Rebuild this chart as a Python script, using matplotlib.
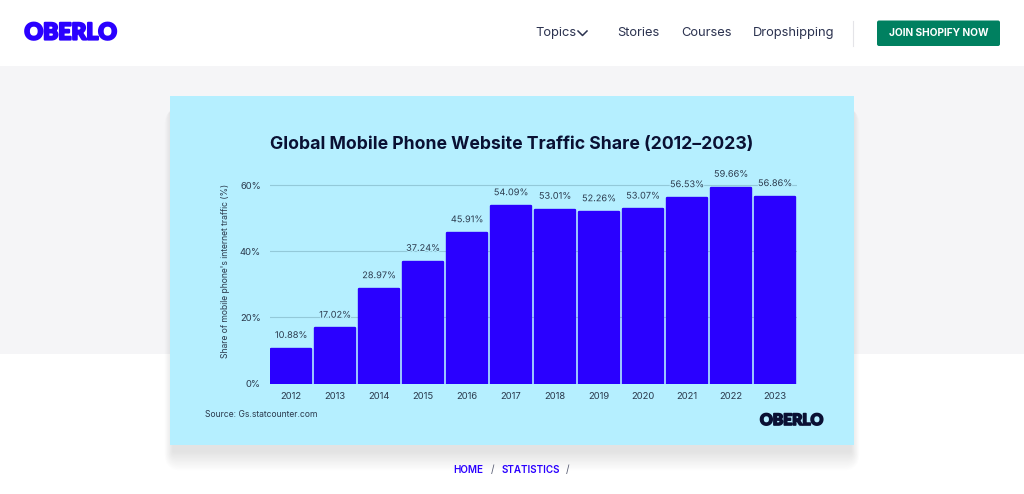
import matplotlib
matplotlib.use("Agg")
import matplotlib.pyplot as plt
from matplotlib.patches import Rectangle, FancyBboxPatch
from matplotlib.transforms import Affine2D
import matplotlib.patheffects as pe
import numpy as np

years = ["2012", "2013", "2014", "2015", "2016", "2017", "2018", "2019", "2020", "2021", "2022", "2023"]
shares = [10.88, 17.02, 28.97, 37.24, 45.91, 54.09, 53.01, 52.26, 53.07, 56.53, 59.66, 56.86]
y_ticks = [0, 20, 40, 60]
y_tick_labels = ["0%", "20%", "40%", "60%"]
nav_items = [("Topics", 535), ("Stories", 617), ("Courses", 681.5), ("Dropshipping", 753)]

W, H = 1024, 494
BLUE = "#2a00ff"
NAVY = "#0a1033"
TXT = "#2b3a4d"
plt.rcParams["font.family"] = ["Inter", "DejaVu Sans"]

fig = plt.figure(figsize=(W / 100, H / 100), dpi=100, facecolor="white")
bg = fig.add_axes([0, 0, 1, 1])
bg.set_xlim(0, W)
bg.set_ylim(H, 0)
bg.axis("off")

bg.add_patch(Rectangle((0, 66), W, 287.5, fc="#f5f5f7", ec="none"))

# card shadow
for i in range(14):
    g = 28 - i * 2
    bg.add_patch(FancyBboxPatch((170 - g * 0.3 + 3, 96 + 12), 684 + g * 0.6 - 6, 349 + g * 0.7 - 6,
                                boxstyle="round,pad=0,rounding_size=%f" % max(g * 0.6, 1),
                                fc="#000000", ec="none", alpha=0.007))
bg.add_patch(Rectangle((170, 96), 684, 349, fc="#b5efff", ec="none"))


def logo(x, y, size, color, stroke):
    t = bg.text(x, y, "OBERLO", fontsize=size, fontweight="black", color=color, ha="left", va="center",
                family=["Lato", "DejaVu Sans"])
    t.set_path_effects([pe.withStroke(linewidth=stroke, foreground=color)])
    return t


logo(24.5, 33, 16.5, BLUE, 1.6)
logo(760, 420, 11.3, NAVY, 1.2)

for label, x in nav_items:
    bg.text(x, 33, label, fontsize=9.3, color="#2c3350", ha="left", va="center")
bg.plot([578, 582.5, 587], [31, 35.5, 31], color="#2c3350", lw=1.1)
bg.plot([852.5, 852.5], [21, 46], color="#e4e4e8", lw=0.8)
bg.add_patch(FancyBboxPatch((877, 20.5), 123, 25.5, boxstyle="round,pad=0,rounding_size=2",
                            fc="#008060", ec="none"))
bg.text(938.5, 33, "JOIN SHOPIFY NOW", fontsize=7.3, fontweight="bold", color="white", ha="center", va="center")

bg.text(512, 144, "Global Mobile Phone Website Traffic Share (2012\u20132023)", fontsize=12.7,
        fontweight="bold", color=NAVY, ha="center", va="center")
bg.text(205, 414, "Source: Gs.statcounter.com", fontsize=6.2, color=TXT, ha="left", va="center")
bg.text(226, 270.5, "Share of mobile phone's internet traffic (%)", fontsize=6.2, color=TXT, rotation=90,
        ha="center", va="center")

bg.text(453, 470, "HOME", fontsize=7.1, fontweight="semibold", color=BLUE, ha="left", va="center")
bg.text(492.5, 470, "/", fontsize=7.1, color="#555a70", ha="center", va="center")
bg.text(501.5, 470, "STATISTICS", fontsize=7.1, fontweight="semibold", color=BLUE, ha="left", va="center")
bg.text(568, 470, "/", fontsize=7.1, color="#555a70", ha="center", va="center")

# chart axes: pixel box chosen so that 0% -> y 383.5 and 60% -> y 185.3
px_per_unit = (383.5 - 185.3) / 60
ymax = 64
top = 383.5 - ymax * px_per_unit
ax = fig.add_axes([270 / W, 1 - 383.5 / H, (797 - 270) / W, (383.5 - top) / H])
ax.patch.set_alpha(0)
ax.set_ylim(0, ymax)
x = np.arange(len(years))
ax.set_xlim(-21 / 44, 11 + 22 / 44)

ax.set_yticks(y_ticks)
ax.set_yticklabels(y_tick_labels, fontsize=6.8, color=TXT)
ax.set_xticks(x)
ax.set_xticklabels(years, fontsize=6.8, color=TXT)
ax.tick_params(length=0)
ax.tick_params(axis="y", pad=6.5)
ax.tick_params(axis="x", pad=6)
ax.grid(axis="y", color="#93c9d9", lw=0.8)
ax.set_axisbelow(True)
for s in ax.spines.values():
    s.set_visible(False)

inset = Affine2D().translate(0, -1.2)
ax.bar(x, shares, width=39.5 / 44, color=BLUE, edgecolor=BLUE, linewidth=1.7, joinstyle="round",
       transform=ax.transData + inset)
for xi, v in zip(x, shares):
    ax.annotate("%.2f%%" % v, (xi, v), xytext=(0, 5.5), textcoords="offset points", ha="center", va="bottom",
                fontsize=6.6, color=TXT, clip_on=False,
                path_effects=[pe.withStroke(linewidth=1.5, foreground="#b5efff")])

fig.savefig("out.png", dpi=100, facecolor="white")
